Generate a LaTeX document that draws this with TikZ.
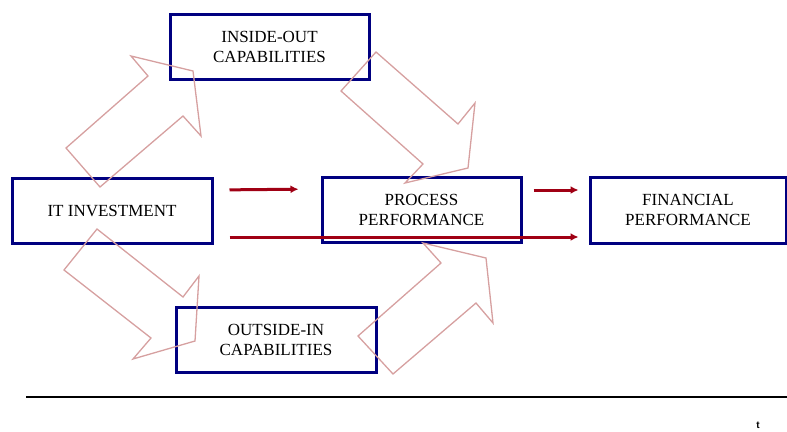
\documentclass[tikz,border=0pt]{standalone}
\usepackage{fontspec}
\setmainfont{Liberation Serif}
\setsansfont{Liberation Sans}
\usepackage{tikz}
\usetikzlibrary{arrows.meta,positioning}

\definecolor{boxblue}{RGB}{0,0,128}
\definecolor{flowred}{RGB}{160,0,20}
\definecolor{blockpink}{RGB}{214,160,160}

\tikzset{
  box/.style={draw=boxblue, line width=3pt, minimum width=199pt, minimum height=65pt,
    align=center, inner sep=0pt, font=\fontsize{17}{20}\selectfont},
  flow/.style={draw=flowred, line width=3pt, -{Latex[length=8pt,width=8pt]}},
  block/.style={draw=blockpink, line width=1.3pt, line join=miter}
}

\begin{document}
\begin{tikzpicture}[x=1pt,y=-1pt]
      \useasboundingbox (0,0) rectangle (787,431);

      \node[box, minimum width=200pt] at (112,210.5) (it) {IT INVESTMENT};
      \node[box] at (269.5,46.5) (inside) {INSIDE-OUT\\CAPABILITIES};
      \node[box] at (421.5,209.5) (proc) {PROCESS\\PERFORMANCE};
      \node[box, minimum width=196pt, minimum height=66pt] at (688,210) (fin) {FINANCIAL\\PERFORMANCE};
      \node[box, minimum width=200pt] at (276,339.5) (outside) {OUTSIDE-IN\\CAPABILITIES};

      % block arrows
      \draw[block] (66,148) -- (148,76) -- (131,56) -- (193,71) -- (201,136) -- (183,116) -- (100,187) -- cycle;
      \draw[block] (376,52) -- (458,124) -- (475,103) -- (468,168) -- (405,183) -- (423,164) -- (341,91) -- cycle;
      \draw[block] (97,229) -- (183,297) -- (199,276) -- (195,341) -- (133,359) -- (151,338) -- (64,270) -- cycle;
      \draw[block] (358,336) -- (441,263) -- (423,243) -- (486,258) -- (493,323) -- (476,303) -- (393,374) -- cycle;

      \draw[flow, shorten <=16pt, shorten >=22pt] ([yshift=20.5pt]it.east) -- ([yshift=20.5pt]proc.west);
      \draw[flow, shorten <=11pt, shorten >=10pt] ([yshift=19.5pt]proc.east) -- ([yshift=20pt]fin.west);
      \draw[flow, shorten <=16pt, shorten >=10pt] ([yshift=-26.5pt]it.east) -- ([yshift=-27pt]fin.west);

      \draw[line width=2.5pt] (26,397) -- (787,397);
      \node[font=\sffamily\bfseries\fontsize{10}{12}\selectfont, inner sep=0pt] at (758,425) (tmark) {t};
\end{tikzpicture}
\end{document}
